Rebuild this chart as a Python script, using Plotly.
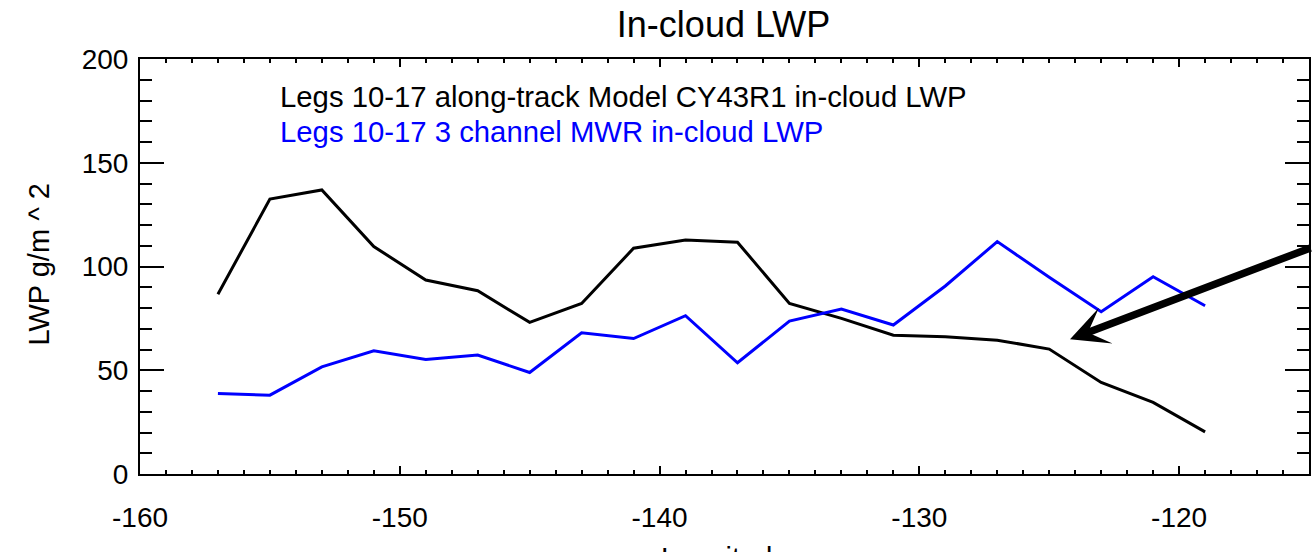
import plotly.graph_objects as go

# ---- data ----
longitude = [-157, -155, -153, -151, -149, -147, -145, -143, -141, -139,
             -137, -135, -133, -131, -129, -127, -125, -123, -121, -119]
model_lwp = [86.6, 132.5, 136.9, 109.6, 93.5, 88.3, 73.1, 82.2, 108.8, 112.8,
             111.7, 82.2, 75.0, 66.9, 66.1, 64.5, 60.2, 44.1, 34.5, 20.3]
mwr_lwp = [38.8, 38.0, 51.6, 59.4, 55.2, 57.3, 48.9, 68.1, 65.3, 76.3,
           53.6, 73.7, 79.5, 71.8, 90.6, 112.0, 94.8, 78.2, 95.1, 81.1]

x_ticks = [-160, -150, -140, -130, -120]
y_ticks = [0, 50, 100, 150, 200]

title_text = "In-cloud LWP"
model_label = "Legs 10-17 along-track Model CY43R1 in-cloud LWP"
mwr_label = "Legs 10-17 3 channel MWR in-cloud LWP"
x_title = "Longitude"
y_title = "LWP g/m ^ 2"

FONT = "Liberation Sans, Arial, Helvetica, sans-serif"

fig = go.Figure()
fig.add_trace(go.Scatter(x=longitude, y=model_lwp, mode="lines",
                         line=dict(color="black", width=3), name=model_label,
                         showlegend=False))
fig.add_trace(go.Scatter(x=longitude, y=mwr_lwp, mode="lines",
                         line=dict(color="#0000ff", width=3), name=mwr_label,
                         showlegend=False))

fig.update_layout(
    width=1312, height=552,
    margin=dict(l=140, r=3, t=59, b=78, autoexpand=False),
    paper_bgcolor="white", plot_bgcolor="white",
    font=dict(family=FONT, color="black", size=28),
    title=dict(text=title_text, x=0.5515, xanchor="center",
               y=1 - 24 / 552, yanchor="middle", yref="container",
               font=dict(size=36, family=FONT, color="black")),
    showlegend=False,
)

fig.update_xaxes(
    range=[-160, -115], tickmode="array", tickvals=x_ticks,
    ticktext=[str(v) for v in x_ticks],
    showgrid=False, zeroline=False,
    showline=True, linecolor="black", linewidth=2, mirror="allticks",
    ticks="inside", ticklen=8, tickwidth=2, tickcolor="black",
    tickfont=dict(size=28, family=FONT, color="black"),
    minor=dict(dtick=1, tick0=-160, ticks="inside", ticklen=4, tickwidth=2,
               tickcolor="black", showgrid=False),
    ticklabelstandoff=17,
)
fig.update_yaxes(
    range=[0, 200], tickmode="array", tickvals=y_ticks,
    ticktext=[str(v) for v in y_ticks],
    showgrid=False, zeroline=False,
    showline=True, linecolor="black", linewidth=2, mirror="allticks",
    ticks="inside", ticklen=24, tickwidth=2, tickcolor="black",
    tickfont=dict(size=28, family=FONT, color="black"),
    minor=dict(dtick=10, tick0=0, ticks="inside", ticklen=12, tickwidth=2,
               tickcolor="black", showgrid=False),
    ticklabelstandoff=4,
)

# in-plot text labels
fig.add_annotation(text=model_label, xref="paper", yref="paper",
                   x=(278 - 140) / 1169, y=(473.7 - 96.5) / 414.4,
                   xanchor="left", yanchor="middle", showarrow=False,
                   font=dict(size=29.3, family=FONT, color="black"))
fig.add_annotation(text=mwr_label, xref="paper", yref="paper",
                   x=(278 - 140) / 1169, y=(473.7 - 132) / 414.4,
                   xanchor="left", yanchor="middle", showarrow=False,
                   font=dict(size=29.3, family=FONT, color="#0000ff"))

# axis titles
fig.add_annotation(text=y_title, xref="paper", yref="paper",
                   x=(38.5 - 140) / 1169, y=(473.7 - 265) / 414.4,
                   xanchor="center", yanchor="middle", textangle=-90,
                   showarrow=False, font=dict(size=29, family=FONT, color="black"))
fig.add_annotation(text=x_title, xref="paper", yref="paper",
                   x=(724 - 140) / 1169, y=0, yshift=-66,
                   xanchor="center", yanchor="top", showarrow=False,
                   font=dict(size=29, family=FONT, color="black"))

# arrow pointing at the model curve
fig.add_annotation(x=-124.2, y=64.9, xref="x", yref="y",
                   ax=250, ay=-92, axref="pixel", ayref="pixel",
                   text="", showarrow=True, arrowhead=3, arrowsize=0.85,
                   arrowwidth=7.5, arrowcolor="black", standoff=0)

fig.write_html("out.html")
